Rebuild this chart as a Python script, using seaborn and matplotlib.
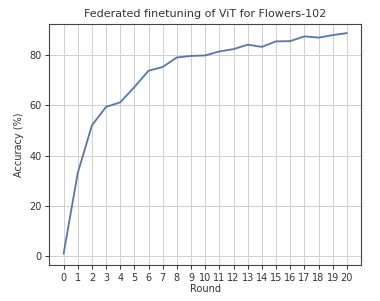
import matplotlib
matplotlib.use("Agg")
import matplotlib.pyplot as plt
import seaborn as sns
import pandas as pd

rounds = list(range(21))
accuracy = [0.8, 33, 52, 59.4, 61.2, 67.3, 73.8, 75.3, 79.1, 79.7, 79.9, 81.5, 82.4, 84.2, 83.3, 85.5, 85.6, 87.5, 87.0, 88.0, 88.8]
tick_labels = [str(r) for r in rounds]

df = pd.DataFrame({"Round": rounds, "Accuracy (%)": accuracy})

sns.set_style("ticks")
plt.rcParams['font.family'] = ['DejaVu Sans']
fig, ax = plt.subplots(figsize=(3.8, 3.01), dpi=100)
sns.lineplot(data=df, x="Round", y="Accuracy (%)", ax=ax, color="#5577aa", linewidth=1.3)
ax.set_xticks(rounds)
ax.set_xticklabels(tick_labels)
ax.set_yticks([0, 20, 40, 60, 80])
ax.grid(True, color="#d0d0d0", linewidth=0.7)
ax.tick_params(labelsize=7, colors="#333333", length=3, width=0.7, pad=2.5)
ax.set_xlabel("Round", fontsize=7, color="#333333", labelpad=1)
ax.set_ylabel("Accuracy (%)", fontsize=7, color="#333333")
ax.set_title("Federated finetuning of ViT for Flowers-102", fontsize=8, color="#333333", pad=5)
for s in ax.spines.values():
    s.set_color("#444444")
    s.set_linewidth(0.8)
ax.set_xlim(-1, 21)
ax.set_ylim(-3.6, 92.4)
fig.subplots_adjust(left=0.13, right=0.95, bottom=0.12, top=0.92)
fig.savefig("out.png", dpi=100)
